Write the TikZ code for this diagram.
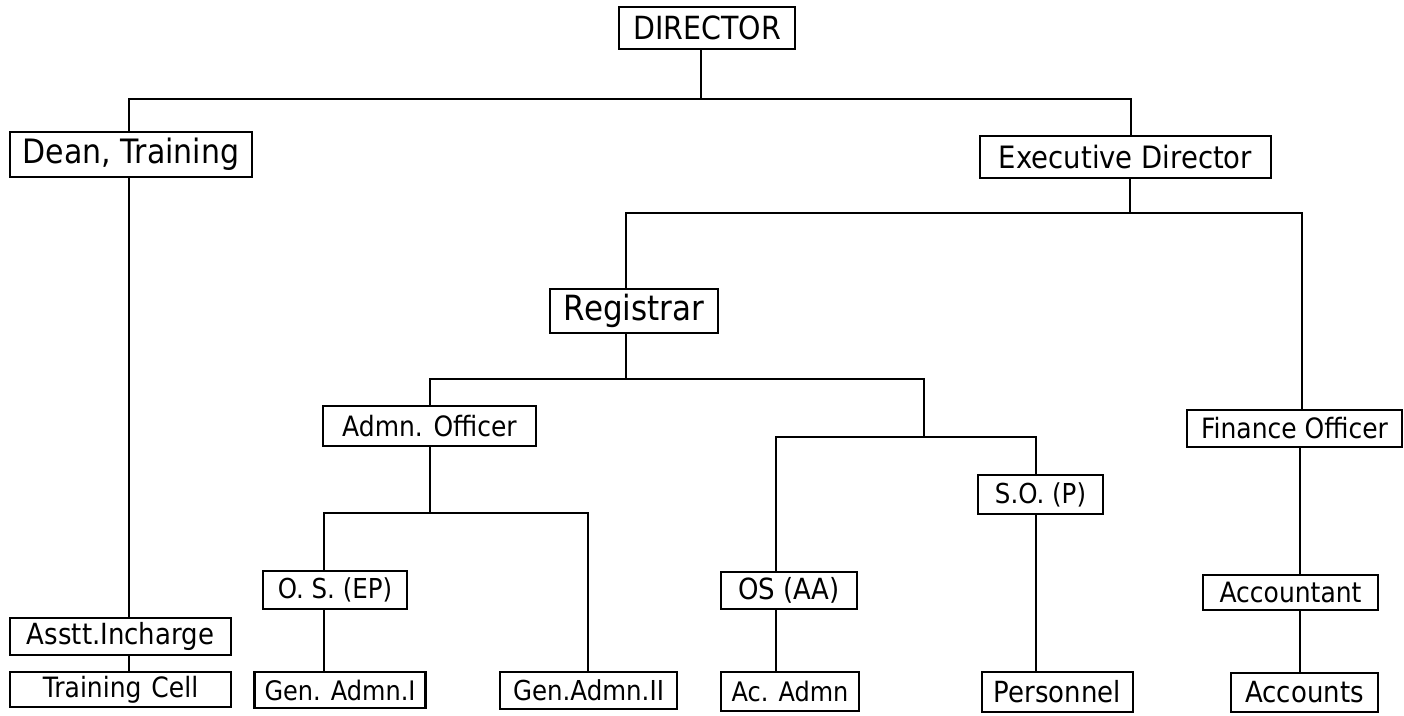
\documentclass[tikz,border=0pt]{standalone}
\usepackage{fontspec}
\usepackage{graphicx}
\setmainfont{DejaVu Sans}
\newcommand\orgfs[1]{\fontsize{#1}{#1}\selectfont}
\newcommand\orgtx[1]{\scalebox{1}[1.12]{#1}}
\tikzset{
  orgbox/.style={draw, rectangle, inner sep=0pt, line width=2.2pt, align=center},
  conn/.style={line width=2.2pt, line join=miter}
}
\begin{document}
\begin{tikzpicture}[x=1pt, y=-1pt]
\fill[white] (0,0) rectangle (1404,715);
\useasboundingbox (0,0) rectangle (1404,715);

% nodes
\node[orgbox, minimum width=176pt, minimum height=42pt, font=\orgfs{28.5}] (dir) at (707,28) {\orgtx{DIRECTOR}};
\node[orgbox, minimum width=242pt, minimum height=45pt, font=\orgfs{30}] (dean) at (131,154.5) {\orgtx{Dean, Training}};
\node[orgbox, minimum width=291pt, minimum height=42pt, font=\orgfs{27.5}] (exec) at (1125.5,157) {\orgtx{Executive Director}};
\node[orgbox, minimum width=168pt, minimum height=44pt, font=\orgfs{31}] (reg) at (634,311) {\orgtx{Registrar}};
\node[orgbox, minimum width=215pt, minimum height=37pt, font=\orgfs{25}] (fin) at (1294.5,428.5) {\orgtx{Finance Officer}};
\node[orgbox, minimum width=213pt, minimum height=40pt, font=\orgfs{25}] (adm) at (429.5,426) {\orgtx{Admn. Officer}};
\node[orgbox, minimum width=125pt, minimum height=39pt, font=\orgfs{24.5}] (sop) at (1040.5,494.5) {\orgtx{S.O. (P)}};
\node[orgbox, minimum width=144pt, minimum height=38pt, font=\orgfs{24.5}] (osep) at (335,590) {\orgtx{O. S. (EP)}};
\node[orgbox, minimum width=136pt, minimum height=37pt, font=\orgfs{26}] (osaa) at (789,590.5) {\orgtx{OS (AA)}};
\node[orgbox, minimum width=175pt, minimum height=35pt, font=\orgfs{25}] (acct) at (1290.5,592.5) {\orgtx{Accountant}};
\node[orgbox, minimum width=221pt, minimum height=37pt, font=\orgfs{26}] (asst) at (120.5,636.5) {\orgtx{Asstt.Incharge}};
\node[orgbox, minimum width=221pt, minimum height=35pt, font=\orgfs{25}] (tc) at (120.5,689.5) {\orgtx{Training\hspace{0.4em}Cell}};
\node[orgbox, minimum width=171pt, minimum height=36pt, font=\orgfs{24}] (ga1) at (340,690) {\orgtx{Gen. Admn.I}};
\node[orgbox, minimum width=177pt, minimum height=37pt, font=\orgfs{24.5}] (ga2) at (588.5,690.5) {\orgtx{Gen.Admn.II}};
\node[orgbox, minimum width=138pt, minimum height=39pt, font=\orgfs{24}] (acad) at (790,691.5) {\orgtx{Ac. Admn}};
\node[orgbox, minimum width=151pt, minimum height=40pt, font=\orgfs{26}] (pers) at (1057.5,692) {\orgtx{Personnel}};
\node[orgbox, minimum width=147pt, minimum height=39pt, font=\orgfs{26}] (accs) at (1304.5,692.5) {\orgtx{Accounts}};

% junction coordinates
\coordinate (jtop) at (701,99);
\coordinate (jdean) at (129,99);
\coordinate (jexec) at (1131,99);
\coordinate (jed) at (1130,213);
\coordinate (jreg) at (626,213);
\coordinate (jfin) at (1302,213);
\coordinate (jr2) at (626,379);
\coordinate (jadm) at (430,379);
\coordinate (jright) at (924,379);
\coordinate (jsub) at (924,437);
\coordinate (jaa) at (776,437);
\coordinate (jp) at (1036,437);
\coordinate (ja2) at (430,513);
\coordinate (jep) at (324,513);
\coordinate (jg2) at (588,513);
\coordinate (jfa) at (1300,500);

% connectors
\draw[conn] (dir.south -| jtop) -- (jtop);
\draw[conn] (jdean |- dean.north) -- (jdean) -- (jexec) -- (jexec |- exec.north);
\draw[conn] (dean.south -| jdean) -- (asst.north -| jdean);
\draw[conn] (asst.south -| jdean) -- (tc.north -| jdean);
\draw[conn] (exec.south -| jed) -- (jed);
\draw[conn] (jreg |- reg.north) -- (jreg) -- (jfin) -- (jfin |- fin.north);
\draw[conn] (reg.south -| jr2) -- (jr2);
\draw[conn] (jadm |- adm.north) -- (jadm) -- (jright) -- (jsub);
\draw[conn] (jaa |- osaa.north) -- (jaa) -- (jp) -- (jp |- sop.north);
\draw[conn] (adm.south -| ja2) -- (ja2);
\draw[conn] (jep |- osep.north) -- (jep) -- (jg2) -- (jg2 |- ga2.north);
\draw[conn] (osep.south -| jep) -- (ga1.north -| jep);
\draw[conn] (osaa.south -| jaa) -- (acad.north -| jaa);
\draw[conn] (sop.south -| jp) -- (pers.north -| jp);
\draw[conn] (fin.south -| jfa) -- (acct.north -| jfa);
\draw[conn] (acct.south -| jfa) -- (accs.north -| jfa);
\end{tikzpicture}
\end{document}
